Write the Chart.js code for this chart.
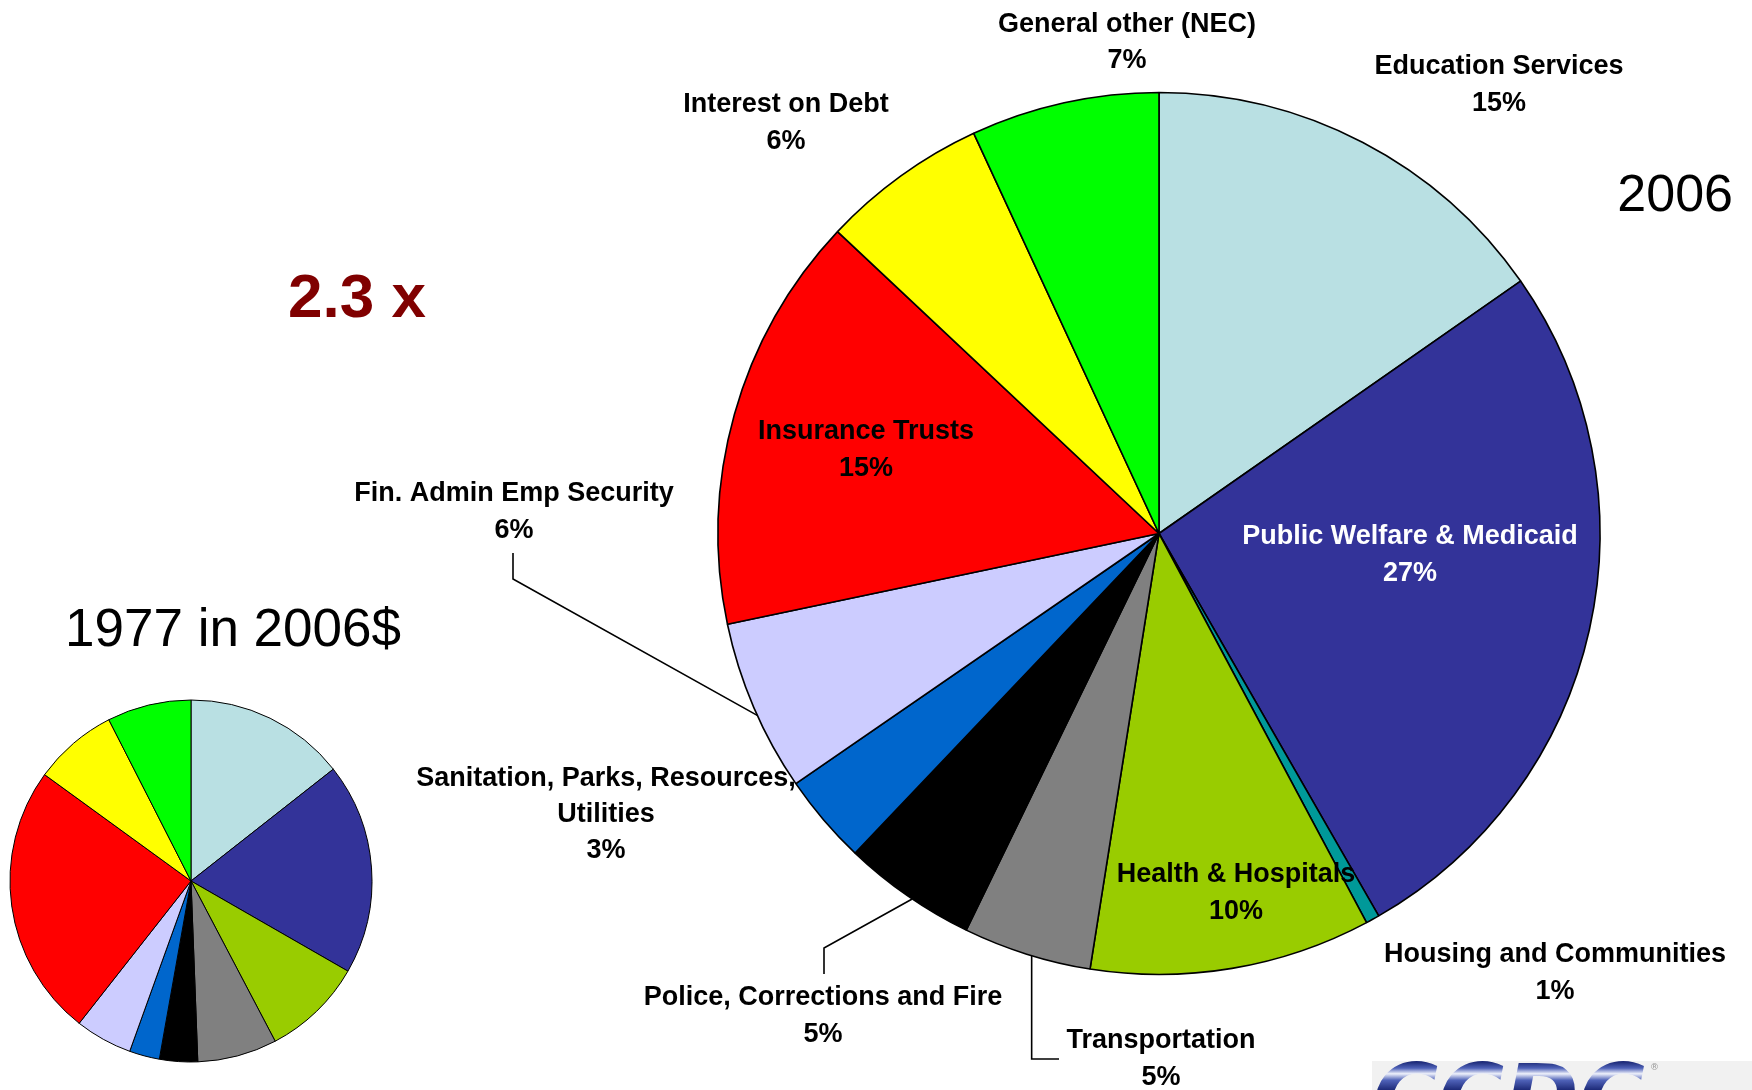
<!DOCTYPE html>
<html>
<head>
<meta charset="utf-8">
<script src="https://cdn.jsdelivr.net/npm/chart.js@4.4.1/dist/chart.umd.min.js"></script>
<style>
html,body{margin:0;padding:0;background:#ffffff;}
#wrap{position:relative;width:1752px;height:1090px;overflow:hidden;background:#ffffff;}
#wrap canvas{position:absolute;left:0;top:0;}
</style>
</head>
<body>
<div id="wrap">
<canvas id="c1977" width="1752" height="1090"></canvas>
<canvas id="c2006" width="1752" height="1090"></canvas>
</div>
<script>
// ---------- DATA ----------
const categories = [
  'Education Services',
  'Public Welfare & Medicaid',
  'Housing and Communities',
  'Health & Hospitals',
  'Transportation',
  'Police, Corrections and Fire',
  'Sanitation, Parks, Resources,\nUtilities',
  'Fin. Admin Emp Security',
  'Insurance Trusts',
  'Interest on Debt',
  'General other (NEC)'
];
const share2006 = [15.3, 26.4, 0.5, 10.3, 4.7, 4.9, 3.3, 6.3, 15.3, 6.1, 6.9];
const share1977 = [14.4, 18.9, 0.0, 9.0, 7.1, 3.4, 2.7, 5.1, 24.4, 7.5, 7.5];
const pctLabels2006 = ['15%', '27%', '1%', '10%', '5%', '5%', '3%', '6%', '15%', '6%', '7%'];
const title2006 = '2006';
const title1977 = '1977 in 2006$';
const growthLabel = '2.3 x';

// ---------- STYLES / LAYOUT ----------
const sliceColors = ['#B9E0E3', '#333399', '#009999', '#99CC00', '#808080', '#000000',
                     '#0066CC', '#CCCCFF', '#FF0000', '#FFFF00', '#00FF00'];
const labelFont = 'bold 27px "Liberation Sans", Arial, sans-serif';
const labelGap = 37;
// label anchor: centre x, first baseline y
const labelLayout = [
  {x: 1499, y: 74},
  {x: 1410, y: 544, color: '#ffffff'},
  {x: 1555, y: 962},
  {x: 1236, y: 882},
  {x: 1161, y: 1048},
  {x: 823, y: 1005},
  {x: 606, y: 786, gap: 36},
  {x: 514, y: 501},
  {x: 866, y: 439},
  {x: 786, y: 112},
  {x: 1127, y: 32, gap: 36}
];
// leader lines: index -> fraction inside slice for the pie end, and elbow points toward the label
const leaderLayout = {
  7: {frac: 0.45, pts: [[513, 579], [513, 553]]},
  5: {frac: 0.46, pts: [[824, 948], [824, 974]]},
  4: {frac: 0.46, vertTo: 1059, hTo: 1059}
};

const labelPlugin = {
  id: 'labels2006',
  afterDraw(chart) {
    const ctx = chart.ctx;
    const arcs = chart.getDatasetMeta(0).data;
    ctx.save();
    // leader lines
    ctx.strokeStyle = '#000';
    ctx.lineWidth = 1.6;
    Object.keys(leaderLayout).forEach(k => {
      const L = leaderLayout[k];
      const a = arcs[k];
      const ang = a.startAngle + L.frac * (a.endAngle - a.startAngle);
      const ax = a.x + Math.cos(ang) * a.outerRadius;
      const ay = a.y + Math.sin(ang) * a.outerRadius;
      ctx.beginPath();
      ctx.moveTo(ax, ay);
      if (L.pts) {
        L.pts.forEach(p => ctx.lineTo(p[0], p[1]));
      } else {
        ctx.lineTo(ax, L.vertTo);
        ctx.lineTo(L.hTo, L.vertTo);
      }
      ctx.stroke();
    });
    // slice labels
    ctx.font = labelFont;
    ctx.textAlign = 'center';
    ctx.textBaseline = 'alphabetic';
    categories.forEach((c, i) => {
      const lay = labelLayout[i];
      const lines = c.split('\n').concat([pctLabels2006[i]]);
      ctx.fillStyle = lay.color || '#000000';
      const gap = lay.gap || labelGap;
      lines.forEach((t, j) => ctx.fillText(t, lay.x, lay.y + j * gap));
    });
    // titles
    ctx.fillStyle = '#000000';
    ctx.font = '52px "Liberation Sans", Arial, sans-serif';
    ctx.textAlign = 'right';
    ctx.fillText(title2006, 1733, 211);
    ctx.textAlign = 'left';
    ctx.font = '53px "Liberation Sans", Arial, sans-serif';
    ctx.fillText(title1977, 65, 646);
    ctx.fillStyle = '#800000';
    ctx.font = 'bold 62px "Liberation Sans", Arial, sans-serif';
    ctx.fillText(growthLabel, 288, 317);
    // logo (partially visible at bottom-right)
    ctx.fillStyle = '#F1F1F1';
    ctx.fillRect(1372, 1061, 380, 29);
    const g = ctx.createLinearGradient(0, 1062, 0, 1090);
    g.addColorStop(0, '#1d2a78');
    g.addColorStop(0.22, '#4f62b8');
    g.addColorStop(0.42, '#eef1fb');
    g.addColorStop(0.65, '#4f62b8');
    g.addColorStop(1, '#1d2a78');
    ctx.fillStyle = g;
    ctx.font = 'italic bold 90px "DejaVu Sans", sans-serif';
    ctx.textAlign = 'left';
    ctx.fillText('CCDC', 1372, 1129);
    ctx.fillStyle = '#9a9a9a';
    ctx.font = '9px "DejaVu Sans", sans-serif';
    ctx.fillText('®', 1650, 1070);
    ctx.restore();
  }
};

const common = {
  responsive: false,
  maintainAspectRatio: false,
  animation: false,
  events: [],
  devicePixelRatio: 1,
  plugins: {legend: {display: false}, tooltip: {enabled: false}, title: {display: false}}
};

new Chart(document.getElementById('c1977'), {
  type: 'pie',
  data: {
    labels: categories,
    datasets: [{data: share1977, backgroundColor: sliceColors, borderColor: '#000000', borderWidth: 1}]
  },
  options: Object.assign({}, common, {
    radius: 181,
    layout: {padding: {left: 0, right: 1370, top: 672, bottom: 0}}
  })
});

new Chart(document.getElementById('c2006'), {
  type: 'pie',
  data: {
    labels: categories,
    datasets: [{data: share2006, backgroundColor: sliceColors, borderColor: '#000000', borderWidth: 1.6}]
  },
  options: Object.assign({}, common, {
    radius: 441,
    layout: {padding: {left: 566, right: 0, top: 0, bottom: 23}}
  }),
  plugins: [labelPlugin]
});
</script>
</body>
</html>
